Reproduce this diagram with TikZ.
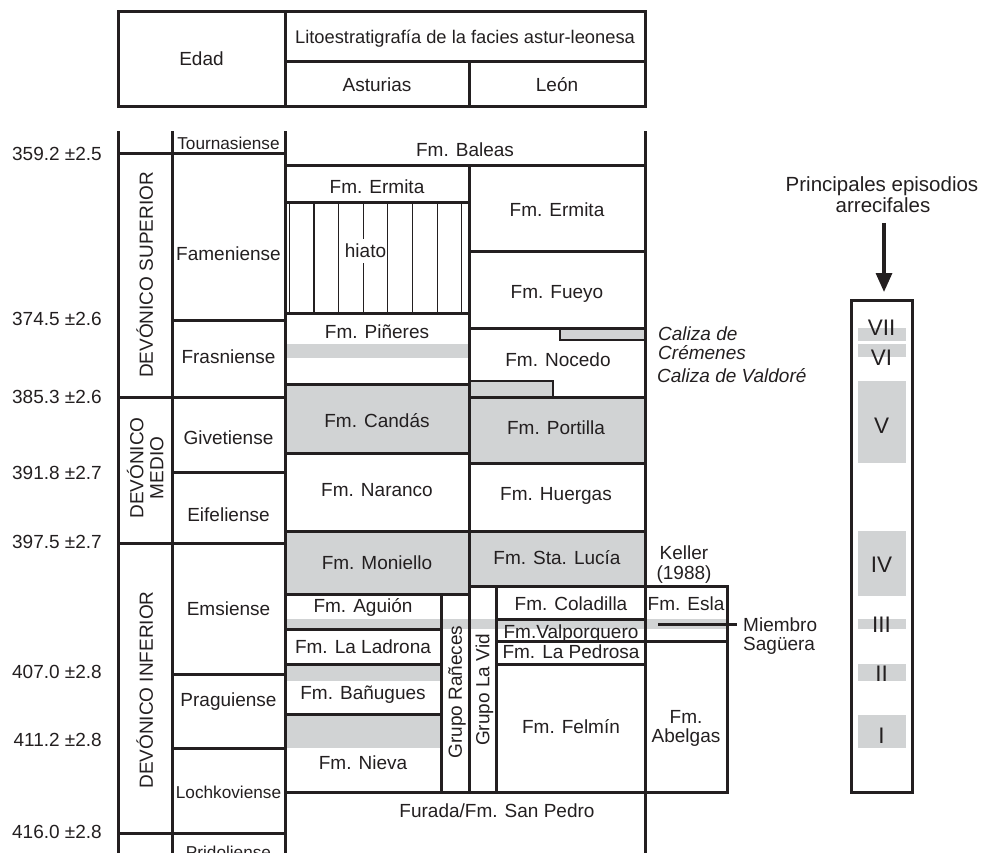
\documentclass[tikz,border=0pt]{standalone}
\usepackage{fontspec}
\setmainfont{Liberation Sans}
\usetikzlibrary{arrows.meta}
\definecolor{ink}{HTML}{231F20}
\definecolor{reef}{HTML}{D1D3D4}
\newcommand\figfont{\fontsize{19}{22}\selectfont}
\newcommand\smallfig{\fontsize{17.2}{20}\selectfont}
\newcommand\hdfont{\fontsize{18.3}{22}\selectfont}
\newcommand\bigfig{\fontsize{20.5}{24}\selectfont}
\newcommand\romfont{\fontsize{22.5}{26}\selectfont}
\begin{document}
\begin{tikzpicture}[x=1pt,y=-1pt,
  rule/.style={draw=ink,line width=3pt,line cap=rect},
  edge rule/.style={draw=ink,line width=2.4pt,line cap=rect},
  hair/.style={draw=ink,line width=1.2pt},
  band/.style={fill=reef,draw=none},
  lab/.style={font=\figfont,text=ink,inner sep=0pt,text height=13.6pt,text depth=0pt},
  slab/.style={lab,font=\smallfig,text height=12.3pt},
  ilab/.style={lab,font=\figfont\itshape,anchor=west},
  rlab/.style={lab,font=\romfont,text height=16.1pt},
  blab/.style={lab,font=\bigfig,text height=14.7pt}]
\useasboundingbox (0,0) rectangle (993,853);

% ---------- grey reef bands ----------
\fill[band] (285,384) rectangle (469,453);   % Candas
\fill[band] (469,397) rectangle (645,463);   % Portilla
\fill[band] (285,531) rectangle (469,594);   % Moniello
\fill[band] (469,531) rectangle (645,586);   % Sta Lucia
\fill[band] (285,344) rectangle (469,358);   % Pineres
\fill[band] (285,619) rectangle (727,628.5); % Saguera
\fill[band] (285,664) rectangle (441,681);
\fill[band] (285,714) rectangle (441,748);
\fill[band] (560,328) rectangle (645,340);   % Cremenes
\fill[band] (469,381) rectangle (553,397);   % Valdore
% right column bands
\fill[band] (858,328) rectangle (906,341);
\fill[band] (858,344) rectangle (906,357);
\fill[band] (858,381) rectangle (906,463);
\fill[band] (858,531) rectangle (906,596);
\fill[band] (858,619) rectangle (906,629);
\fill[band] (858,664) rectangle (906,681);
\fill[band] (858,715) rectangle (906,748);

% ---------- header ----------
\draw[rule] (118,12) rectangle (645,107);
\draw[rule] (285,12) -- (285,107);
\draw[rule] (285,62) -- (645,62);
\draw[rule] (469,62) -- (469,107);

% ---------- main verticals ----------
\draw[rule] (118,133) -- (118,860);
\draw[rule] (172,133) -- (172,860);
\draw[rule] (285,133) -- (285,860);
\draw[rule] (645,133) -- (645,860);
\draw[rule] (469,166) -- (469,792);
\draw[rule] (441,594) -- (441,792);
\draw[rule] (496,586) -- (496,792);
\draw[rule] (727,586) -- (727,792);

% ---------- horizontals ----------
\draw[rule] (118,154) -- (285,154);
\draw[rule] (285,166) -- (645,166);
\draw[rule] (285,203) -- (469,203);
\draw[rule] (469,251) -- (645,251);
\draw[rule] (285,313) -- (469,313);
\draw[rule] (172,320) -- (285,320);
\draw[rule] (469,328) -- (645,328);
\draw[rule] (285,384) -- (469,384);
\draw[rule] (118,397) -- (285,397);
\draw[rule] (469,397) -- (645,397);
\draw[rule] (285,453) -- (469,453);
\draw[rule] (469,463) -- (645,463);
\draw[rule] (172,472) -- (285,472);
\draw[rule] (285,531) -- (645,531);
\draw[rule] (118,543) -- (285,543);
\draw[rule] (469,586) -- (727,586);
\draw[rule] (285,594) -- (469,594);
\draw[rule] (496,619) -- (645,619);
\draw[rule] (285,629) -- (441,629);
\draw[rule] (496,641) -- (727,641);
\draw[rule] (285,664) -- (441,664);
\draw[rule] (496,664) -- (645,664);
\draw[rule] (172,674) -- (285,674);
\draw[rule] (285,714) -- (441,714);
\draw[rule] (172,748) -- (285,748);
\draw[rule] (285,792) -- (727,792);
\draw[rule] (118,833) -- (285,833);

% small limestone bodies
\draw[edge rule] (560,328) -- (560,340) -- (645,340);
\draw[edge rule] (469,381) -- (553,381) -- (553,397);

% hiato ruling
\foreach \hx in {289.3,313.9,338.6,363.2,387.8,412.5,437.1,461.7} {\draw[hair] (\hx,204) -- (\hx,312);}

% Saguera leader
\coordinate (sagA) at (658,624.3);
\coordinate (sagB) at (737,624.3);
\draw[draw=ink,line width=2.4pt] (sagA) -- (sagB);

% ---------- right column ----------
\draw[rule] (851.5,300) rectangle (912.5,792);
\coordinate (arrTop) at (884,223);
\coordinate (arrTip) at (884,292);
\draw[draw=ink,line width=3.2pt,-{Triangle[length=19pt,width=16pt]}] (arrTop) -- (arrTip);

% ---------- texts: header ----------
\node[lab] (edad) at (201.5,59) {Edad};
\node[lab,font=\hdfont,text height=13.1pt] (lito) at (465,37) {Litoestratigrafía de la facies astur-leonesa};
\node[lab] (ast) at (377,85) {Asturias};
\node[lab] (leon) at (557,85) {León};

% ages
\node[lab,anchor=east] (a1) at (102,154) {359.2 ±2.5};
\node[lab,anchor=east] (a2) at (102,319) {374.5 ±2.6};
\node[lab,anchor=east] (a3) at (102,397) {385.3 ±2.6};
\node[lab,anchor=east] (a4) at (102,473) {391.8 ±2.7};
\node[lab,anchor=east] (a5) at (102,542) {397.5 ±2.7};
\node[lab,anchor=east] (a6) at (102,672) {407.0 ±2.8};
\node[lab,anchor=east] (a7) at (102,740) {411.2 ±2.8};
\node[lab,anchor=east] (a8) at (102,832) {416.0 ±2.8};

% eras
\node[lab,rotate=90] (sup) at (146,275) {DEVÓNICO SUPERIOR};
\node[lab,rotate=90] (med1) at (136.5,468) {DEVÓNICO};
\node[lab,rotate=90] (med2) at (156.5,468) {MEDIO};
\node[lab,rotate=90] (inf) at (146,690) {DEVÓNICO INFERIOR};

% stages
\node[slab] (tou) at (228.5,143) {Tournasiense};
\node[lab] (fam) at (228.5,254) {Fameniense};
\node[lab] (fra) at (228.5,357) {Frasniense};
\node[lab] (giv) at (228.5,438) {Givetiense};
\node[lab] (eif) at (228.5,515) {Eifeliense};
\node[lab] (ems) at (228.5,609) {Emsiense};
\node[lab] (pra) at (228.5,700) {Praguiense};
\node[slab] (loc) at (228.5,792) {Lochkoviense};
\node[slab] (pri) at (228.5,852) {Pridoliense};

% Asturias
\node[lab] (baleas) at (465,150) {Fm. Baleas};
\node[lab] (ermA) at (377,187) {Fm. Ermita};
\node[lab,fill=white,inner xsep=0.5pt,inner ysep=5pt] (hiato) at (365.5,251) {hiato};
\node[lab] (pin) at (377,332) {Fm. Piñeres};
\node[lab] (cand) at (377,421) {Fm. Candás};
\node[lab] (nar) at (377,490) {Fm. Naranco};
\node[lab] (mon) at (377,563) {Fm. Moniello};
\node[lab] (agu) at (363,606) {Fm. Aguión};
\node[lab] (lad) at (363,647) {Fm. La Ladrona};
\node[lab] (ban) at (363,693) {Fm. Bañugues};
\node[lab] (nie) at (363,763) {Fm. Nieva};
\node[lab,rotate=90] (ran) at (455,692) {Grupo Rañeces};
\node[lab,rotate=90] (vid) at (482.5,690) {Grupo La Vid};
\node[lab] (fur) at (497,811) {Furada/Fm. San Pedro};

% Leon
\node[lab] (ermL) at (557,210) {Fm. Ermita};
\node[lab] (fue) at (557,292) {Fm. Fueyo};
\node[lab] (noc) at (558,360) {Fm. Nocedo};
\node[lab] (por) at (556,428) {Fm. Portilla};
\node[lab] (hue) at (556,494) {Fm. Huergas};
\node[lab] (sta) at (557,558) {Fm. Sta. Lucía};
\node[lab] (col) at (571,604) {Fm. Coladilla};
\node[lab] (val) at (571,632) {Fm.Valporquero};
\node[lab] (ped) at (571,652) {Fm. La Pedrosa};
\node[lab] (fel) at (571,727) {Fm. Felmín};

% Keller column
\node[lab] (kel1) at (684,553) {Keller};
\node[lab] (kel2) at (684,573) {(1988)};
\node[lab] (esla) at (686,604) {Fm. Esla};
\node[lab] (abe1) at (686,717) {Fm.};
\node[lab] (abe2) at (686,736) {Abelgas};

% side notes
\node[ilab] (crem1) at (658,334) {Caliza de};
\node[ilab] (crem2) at (658,353) {Crémenes};
\node[ilab] (vald) at (657,376) {Caliza de Valdoré};
\node[lab,anchor=west] (sag1) at (743,625) {Miembro};
\node[lab,anchor=west] (sag2) at (743,644) {Sagüera};

% reef episodes
\node[blab] (prin1) at (882,184) {Principales episodios};
\node[blab] (prin2) at (883,205) {arrecifales};
\node[rlab] (r7) at (881.5,327) {VII};
\node[rlab] (r6) at (881.5,357) {VI};
\node[rlab] (r5) at (881.5,425) {V};
\node[rlab] (r4) at (881.5,564) {IV};
\node[rlab] (r3) at (881.5,624) {III};
\node[rlab] (r2) at (881.5,673) {II};
\node[rlab] (r1) at (881.5,735) {I};
\end{tikzpicture}
\end{document}
